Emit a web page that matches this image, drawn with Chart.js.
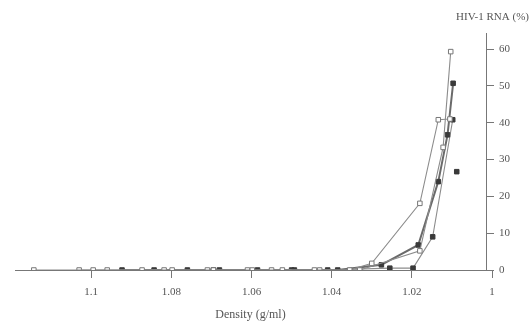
<!DOCTYPE html>
<html>
<head>
<meta charset="utf-8">
<script src="https://cdn.jsdelivr.net/npm/chart.js@4.4.1/dist/chart.umd.min.js"></script>
<style>
  html, body { margin: 0; padding: 0; background: #fff; }
  #wrap { width: 529px; height: 321px; }
</style>
</head>
<body>
<div id="wrap"><canvas id="rnaChart"></canvas></div>
<script>
// density (g/ml) and HIV-1 RNA (%) per gradient
const densA = [1.1143, 1.0995, 1.0873, 1.0798, 1.0695, 1.0598, 1.0523, 1.0443, 1.0355, 1.030, 1.018, 1.0134, 1.0105]
const rnaA = [0, 0, 0, 0, 0, 0, 0, 0, 0, 1.8, 18.1, 40.8, 41.0]

const densB = [1.103, 1.096, 1.0818, 1.071, 1.061, 1.055, 1.043, 1.033, 1.018, 1.0122, 1.0103]
const rnaB = [0, 0, 0, 0, 0, 0, 0, 0, 5.2, 33.3, 59.3]

const densC = [1.0923, 1.076, 1.068, 1.0585, 1.0493, 1.0385, 1.0276, 1.0184, 1.0134, 1.0111, 1.0097]
const rnaC = [0, 0, 0, 0, 0, 0, 1.4, 6.8, 24.0, 36.7, 50.7]

const densD = [1.0843, 1.0695, 1.050, 1.041, 1.0255, 1.0197, 1.0148, 1.0098]
const rnaD = [0, 0, 0, 0, 0.5, 0.5, 9.0, 40.8]

const densE = [1.0088]
const rnaE = [26.7]

const xTicks = [1.1, 1.08, 1.06, 1.04, 1.02, 1.0]
const yTicks = [0, 10, 20, 30, 40, 50, 60]

const ink = '#555'
const lineGrey = '#8c8c8c'

function points(xs, ys) {
  return xs.map((x, i) => ({ x: x, y: ys[i] }))
}

function series(xs, ys, filled, width) {
  return {
    data: points(xs, ys),
    showLine: true,
    borderColor: width > 1.5 ? '#6a6a6a' : lineGrey,
    borderWidth: width,
    tension: 0,
    pointStyle: 'rect',
    pointRadius: 3.2,
    pointBorderWidth: 1,
    pointBorderColor: filled ? '#3a3a3a' : '#777',
    pointBackgroundColor: filled ? '#3a3a3a' : '#fff'
  }
}

const datasets = [
  series(densA, rnaA, false, 1.1),
  series(densB, rnaB, false, 1.1),
  series(densC, rnaC, true, 2),
  series(densD, rnaD, true, 1.1),
  Object.assign(series(densE, rnaE, true, 1), { showLine: false })
]

new Chart(document.getElementById('rnaChart'), {
  type: 'scatter',
  data: { datasets: datasets },
  options: {
    responsive: true,
    maintainAspectRatio: false,
    animation: false,
    layout: { padding: { left: 15, right: 0, top: 0, bottom: 0 } },
    plugins: {
      legend: { display: false },
      tooltip: { enabled: false },
      title: {
        display: true,
        text: 'HIV-1 RNA (%)',
        align: 'end',
        color: ink,
        font: { family: 'Liberation Serif', size: 11, weight: 'normal' },
        padding: { top: 11, bottom: 9 }
      }
    },
    scales: {
      x: {
        type: 'linear',
        reverse: true,
        min: 1.0015,
        max: 1.119,
        afterBuildTicks: function (scale) {
          scale.ticks = xTicks.map((v) => ({ value: v }))
        },
        afterFit: function (scale) {
          scale.height = 51
        },
        grid: {
          drawOnChartArea: false,
          drawTicks: true,
          tickLength: 8,
          color: '#777'
        },
        border: { display: true, color: '#777', width: 1 },
        ticks: {
          color: ink,
          padding: 8,
          maxRotation: 0,
          font: { family: 'Liberation Serif', size: 11 },
          callback: function (value) {
            return String(Number(value.toFixed(2)))
          }
        },
        title: {
          display: true,
          text: 'Density (g/ml)',
          color: ink,
          font: { family: 'Liberation Serif', size: 12, lineHeight: 1.1 },
          padding: { top: 0, bottom: 0 }
        }
      },
      y: {
        position: 'right',
        min: 0,
        max: 64.3,
        afterBuildTicks: function (scale) {
          scale.ticks = yTicks.map((v) => ({ value: v }))
        },
        afterFit: function (scale) {
          scale.width = 43
        },
        grid: {
          drawOnChartArea: false,
          drawTicks: true,
          tickLength: 8,
          color: '#777'
        },
        border: { display: true, color: '#777', width: 1 },
        ticks: {
          color: ink,
          padding: 5,
          font: { family: 'Liberation Serif', size: 11 }
        }
      }
    }
  }
})
</script>
</body>
</html>
